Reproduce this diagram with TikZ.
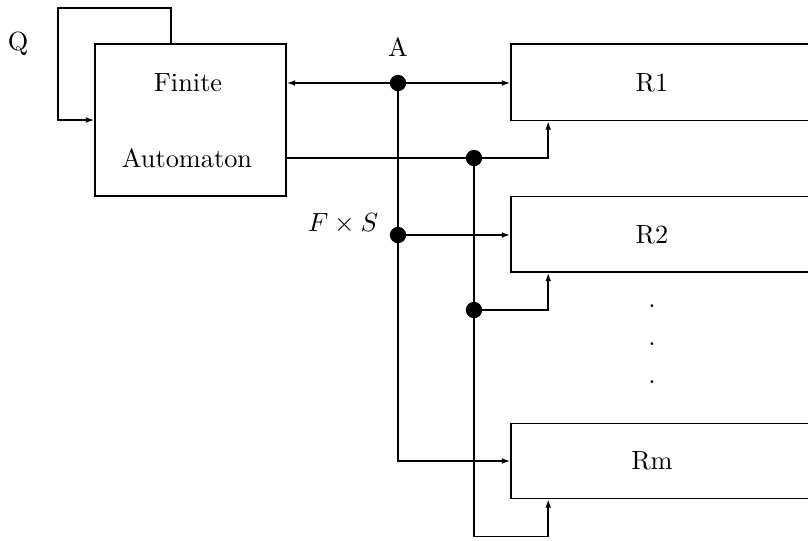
\documentclass[tikz,border=0pt]{standalone}
\usetikzlibrary{arrows.meta,calc,fit}
\begin{document}
\begin{tikzpicture}[x=0.38pt,y=-0.38pt,
  boxln/.style={line width=0.6pt},
  thin/.style={line width=0.55pt},
  thk/.style={line width=0.8pt},
  arr/.style={-{Latex[length=3.2pt,width=2.2pt]}},
  blk/.style={draw,boxln,inner sep=0pt},
  dotn/.style={circle,fill=black,inner sep=0pt,minimum size=6.2pt},
  lbl/.style={inner sep=0pt}]
\clip (0,0) rectangle (808,540);
\useasboundingbox (0,0) rectangle (808,540);
% box corners
\coordinate (fa1) at (95,44);   \coordinate (fa2) at (286,196);
\coordinate (r11) at (511,44);  \coordinate (r12) at (840,120.5);
\coordinate (r21) at (511,196.5); \coordinate (r22) at (840,272);
\coordinate (rm1) at (511,423.5); \coordinate (rm2) at (840,498.5);
\node[blk,fit=(fa1)(fa2)] (FA) {};
\node[blk,fit=(r11)(r12)] (R1) {};
\node[blk,fit=(r21)(r22)] (R2) {};
\node[blk,fit=(rm1)(rm2)] (Rm) {};
% texts
\node[lbl] (tf) at (188,83) {Finite};
\node[lbl] (ta) at (187,158) {Automaton};
\node[lbl] (t1) at (652,83) {R1};
\node[lbl] (t2) at (652,235) {R2};
\node[lbl] (t3) at (652,461) {Rm};
\node[lbl] (q) at (18,44) {Q};
\node[lbl] (la) at (398,47) {A};
\node[lbl] (fs) at (343,224) {$F\times S$};
\node[lbl] (d1) at (652,306) {.};
\node[lbl] (d2) at (652,344) {.};
\node[lbl] (d3) at (652,382) {.};
% junction points
\coordinate (A) at (398,83);
\coordinate (B) at (398,235);
\coordinate (C) at (474,158);
\coordinate (D) at (474,310);
\coordinate (E) at (474,536.5);
\coordinate (fb1) at (171,8);
\coordinate (fb2) at (58,120);
% feedback loop
\draw[thin,arr] (FA.north -| fb1) |- (fb1) -| (fb2) -- (fb2 -| FA.west);
% A bus
\draw[thin,arr] (A) -- (A -| FA.east);
\draw[thin,arr] (A) -- (A -| R1.west);
\draw[thin,arr] (A) |- (Rm.west);
\draw[thk,arr] (B) -- (B -| R2.west);
% F x S bus
\draw[thin] (C -| FA.east) -- (C);
\draw[thin,arr] (C) -| ($(R1.south west)+(38,0)$);
\draw[thk] (C) -- (E);
\draw[thin,arr] (D) -| ($(R2.south west)+(38,0)$);
\draw[thin,arr] (E) -| ($(Rm.south west)+(38,0)$);
% dots
\node[dotn] (dA) at (A) {};
\node[dotn] (dB) at (B) {};
\node[dotn] (dC) at (C) {};
\node[dotn] (dD) at (D) {};
\end{tikzpicture}
\end{document}
